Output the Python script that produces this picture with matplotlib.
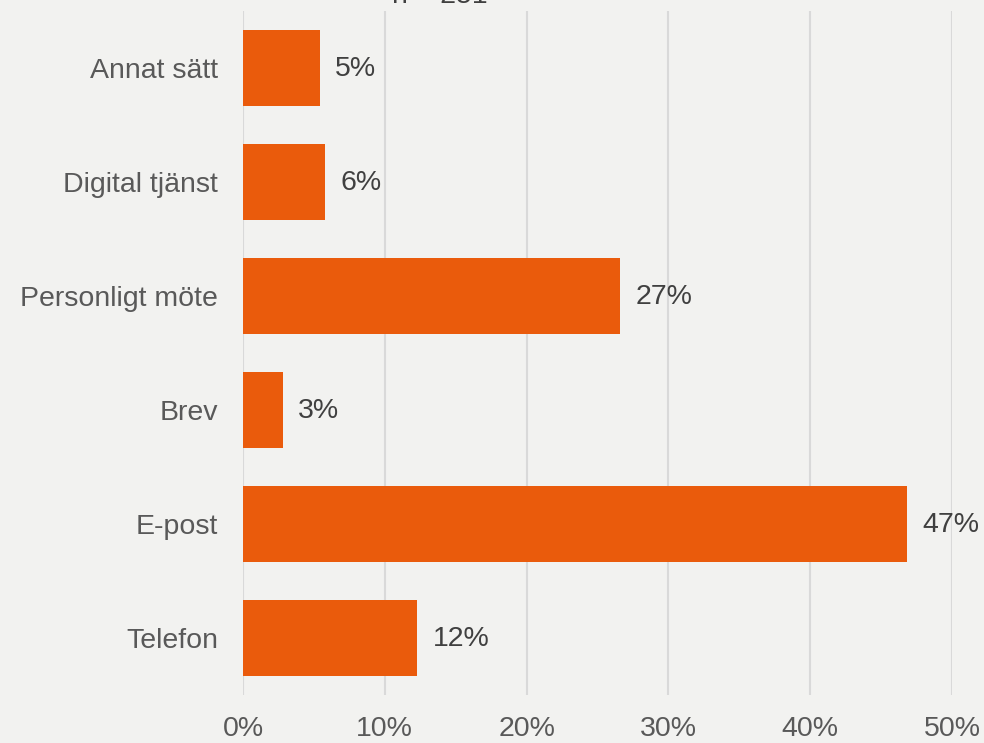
import matplotlib
matplotlib.use("Agg")
import matplotlib.pyplot as plt
from matplotlib.ticker import FuncFormatter

categories = ["Telefon", "E-post", "Brev", "Personligt möte", "Digital tjänst", "Annat sätt"]
values = [12.3, 46.8, 2.8, 26.6, 5.8, 5.4]
labels = ["12%", "47%", "3%", "27%", "6%", "5%"]
xticks = [0, 10, 20, 30, 40, 50]
title = "n = 251"

bg = "#F2F2F0"
bar_color = "#EA5B0C"
text_color = "#404040"
tick_color = "#595959"
grid_color = "#D9D9D9"
fs = 20.5

plt.rcParams["font.family"] = ["Liberation Sans", "DejaVu Sans"]

fig = plt.figure(figsize=(9.84, 7.43), dpi=100)
fig.patch.set_facecolor(bg)
ax = fig.add_axes([243 / 984, 1 - 695 / 743, (952 - 243) / 984, (695 - 11) / 743])
ax.set_facecolor(bg)

y = list(range(len(categories)))
ax.barh(y, values, height=0.67, color=bar_color, zorder=3)
for yi, v, lab in zip(y, values, labels):
    ax.annotate(lab, (v, yi), xytext=(11, -1), textcoords="offset points",
                ha="left", va="center", fontsize=fs, color=text_color)

ax.set_xlim(0, 50)
ax.set_ylim(-0.5, 5.5)
ax.set_xticks(xticks)
ax.xaxis.set_major_formatter(FuncFormatter(lambda v, p: f"{v:.0f}%"))
ax.set_yticks(y)
ax.set_yticklabels(categories)
for t in ax.get_yticklabels():
    t.set_y(t.get_position()[1])
ax.tick_params(axis="both", length=0, labelsize=fs, colors=tick_color)
ax.tick_params(axis="x", pad=15)
ax.tick_params(axis="y", pad=18)
ax.grid(axis="x", color=grid_color, linewidth=1.5, zorder=0)
for s in ax.spines.values():
    s.set_visible(False)

fig.text(440 / 984, 1 + 17 / 743, title, ha="center", va="top", fontsize=fs,
         color=text_color)

fig.savefig("out.png", dpi=100, facecolor=bg)
